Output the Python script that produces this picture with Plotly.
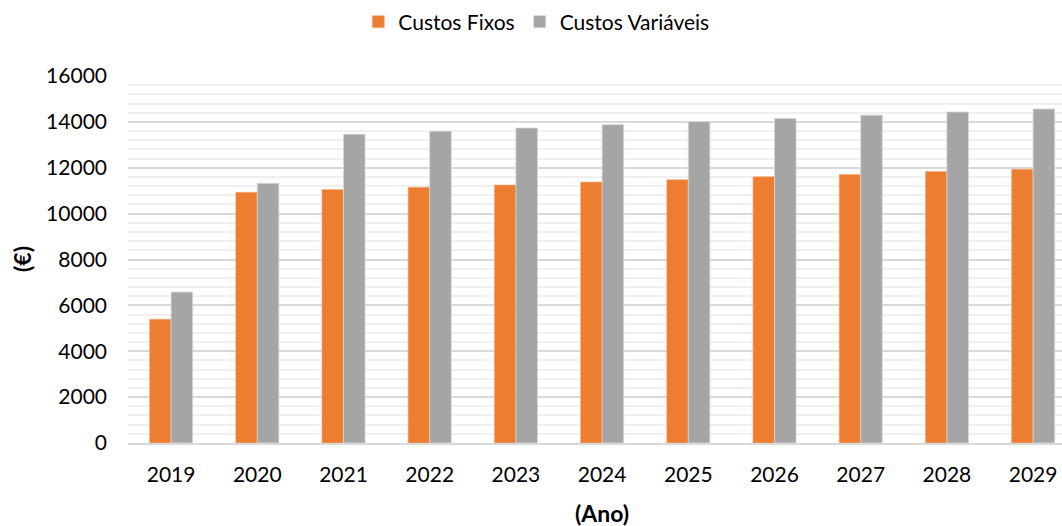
import plotly.graph_objects as go

# Annual costs (€) per year
anos = ["2019", "2020", "2021", "2022", "2023", "2024", "2025", "2026", "2027", "2028", "2029"]
custos_fixos = [5400, 10930, 11050, 11150, 11250, 11380, 11480, 11610, 11710, 11840, 11940]
custos_variaveis = [6580, 11320, 13460, 13590, 13730, 13880, 14010, 14150, 14290, 14430, 14560]

y_ticks = [0, 2000, 4000, 6000, 8000, 10000, 12000, 14000, 16000]

FONT = "Lato"
ORANGE = "#ED7D31"
GREY = "#A5A5A5"

fig = go.Figure()
fig.add_trace(go.Bar(
    x=anos, y=custos_fixos, name="Custos Fixos",
    marker=dict(color=ORANGE, line=dict(color="#F4B183", width=0.6)),
))
fig.add_trace(go.Bar(
    x=anos, y=custos_variaveis, name="Custos Variáveis",
    marker=dict(color=GREY, line=dict(color="#D6D6D6", width=0.8)),
))

W, H = 1062, 526
L, R, T, B = 128, 0, 76, 83

fig.update_layout(
    width=W, height=H,
    margin=dict(l=L, r=R, t=T, b=B, pad=0),
    paper_bgcolor="white", plot_bgcolor="white",
    barmode="group", bargap=0.5, bargroupgap=0,
    font=dict(family=FONT, size=21, color="#000000"),
    showlegend=True,
    legend=dict(
        orientation="h",
        xref="container", yref="container",
        x=0.505, xanchor="center",
        y=1 - 22 / H, yanchor="middle",
        font=dict(family=FONT, size=21, color="#000000"),
        itemwidth=30, tracegroupgap=0,
        bgcolor="rgba(0,0,0,0)",
    ),
)

fig.update_xaxes(
    type="category",
    range=[-0.5, 10.335],
    showgrid=False,
    showline=True, linecolor="#D9D9D9", linewidth=2,
    ticks="", ticklabelstandoff=12,
    tickfont=dict(family=FONT, size=21, color="#000000"),
    zeroline=False,
)

fig.update_yaxes(
    range=[0, 16000],
    tickmode="array", tickvals=y_ticks, ticktext=[str(v) for v in y_ticks],
    showgrid=True, gridcolor="#D9D9D9", gridwidth=1.5,
    minor=dict(dtick=400, showgrid=True, gridcolor="#F0F0F0", gridwidth=1.5),
    showline=False, zeroline=False,
    ticks="", ticklabelstandoff=20,
    tickfont=dict(family=FONT, size=21, color="#000000"),
)

plot_w = W - L - R
# Axis titles placed as annotations
fig.add_annotation(
    text="<b>(Ano)</b>", xref="paper", yref="paper",
    x=(602 - L) / plot_w, y=-(513 - (H - B)) / (H - T - B),
    showarrow=False, xanchor="center", yanchor="middle",
    font=dict(family=FONT, size=23, color="#000000"),
)
fig.add_annotation(
    text="<b>(€)</b>", xref="paper", yref="paper",
    x=-(L - 22) / plot_w, y=((H - B) - 259) / (H - T - B),
    showarrow=False, xanchor="center", yanchor="middle", textangle=-90,
    font=dict(family=FONT, size=23, color="#000000"),
)

fig.write_html("out.html")
